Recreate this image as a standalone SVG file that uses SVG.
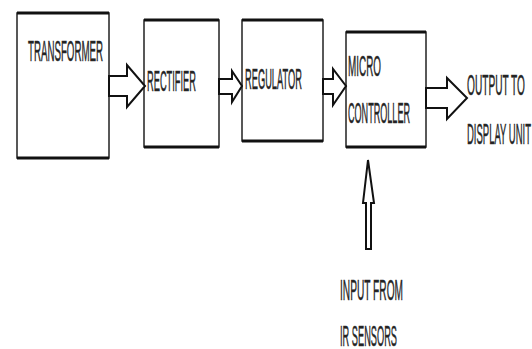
<svg xmlns="http://www.w3.org/2000/svg" width="532" height="349" viewBox="0 0 532 349">
<style>
.box{fill:#fff;stroke:#222;stroke-width:1.5}
.edge{stroke:#111;stroke-width:3}
.arr{fill:#fff;stroke:#111;stroke-width:2;stroke-linejoin:miter}
.t{font-family:"Liberation Sans",Arial,sans-serif;font-size:30px;fill:#222;stroke:#333;stroke-width:0.5}
</style>
<rect width="532" height="349" fill="#fff"/>
<g id="transformer">
<rect class="box" x="17" y="13" width="92" height="145"/>
<line class="edge" x1="17" y1="13" x2="109" y2="13"/>
<line class="edge" x1="17" y1="158" x2="109" y2="158"/>
<text class="t" x="28" y="61" textLength="75" lengthAdjust="spacingAndGlyphs">TRANSFORMER</text>
</g>
<g id="rectifier">
<rect class="box" x="144" y="20" width="75" height="127"/>
<line class="edge" x1="144" y1="20" x2="219" y2="20"/>
<line class="edge" x1="144" y1="147" x2="219" y2="147"/>
<text class="t" x="147" y="91" textLength="49" lengthAdjust="spacingAndGlyphs">RECTIFIER</text>
</g>
<g id="regulator">
<rect class="box" x="242" y="20" width="81" height="121"/>
<line class="edge" x1="242" y1="20" x2="323" y2="20"/>
<line class="edge" x1="242" y1="141" x2="323" y2="141"/>
<text class="t" x="245" y="89" textLength="57" lengthAdjust="spacingAndGlyphs">REGULATOR</text>
</g>
<g id="microcontroller">
<rect class="box" x="346" y="32" width="80" height="115"/>
<line class="edge" x1="346" y1="32" x2="426" y2="32"/>
<line class="edge" x1="346" y1="147" x2="426" y2="147"/>
<text class="t" x="348" y="76" textLength="33" lengthAdjust="spacingAndGlyphs">MICRO</text>
<text class="t" x="348" y="123" textLength="62" lengthAdjust="spacingAndGlyphs">CONTROLLER</text>
</g>
<g id="output">
<text class="t" x="467" y="95" textLength="58" lengthAdjust="spacingAndGlyphs">OUTPUT TO</text>
<text class="t" x="467" y="144" textLength="64" lengthAdjust="spacingAndGlyphs">DISPLAY UNIT</text>
</g>
<g id="input">
<text class="t" x="340" y="300" textLength="63" lengthAdjust="spacingAndGlyphs">INPUT FROM</text>
<text class="t" x="340" y="346" textLength="57" lengthAdjust="spacingAndGlyphs">IR SENSORS</text>
</g>
<g id="connectors">
<polygon class="arr" points="109,76 127,76 127,65 145,86 127,107 127,96 109,96"/>
<polygon class="arr" points="219,79 232,79 232,71 242,86 232,102 232,94 219,94"/>
<polygon class="arr" points="323,79 333,79 333,69 346,86 333,105 333,94 323,94"/>
<polygon class="arr" points="426,88 447,88 447,78 467,98 447,119 447,108 426,108"/>
<polygon class="arr" points="366,249 366,203 363,203 368,160 374,203 371,203 371,249"/>
</g>
</svg>
